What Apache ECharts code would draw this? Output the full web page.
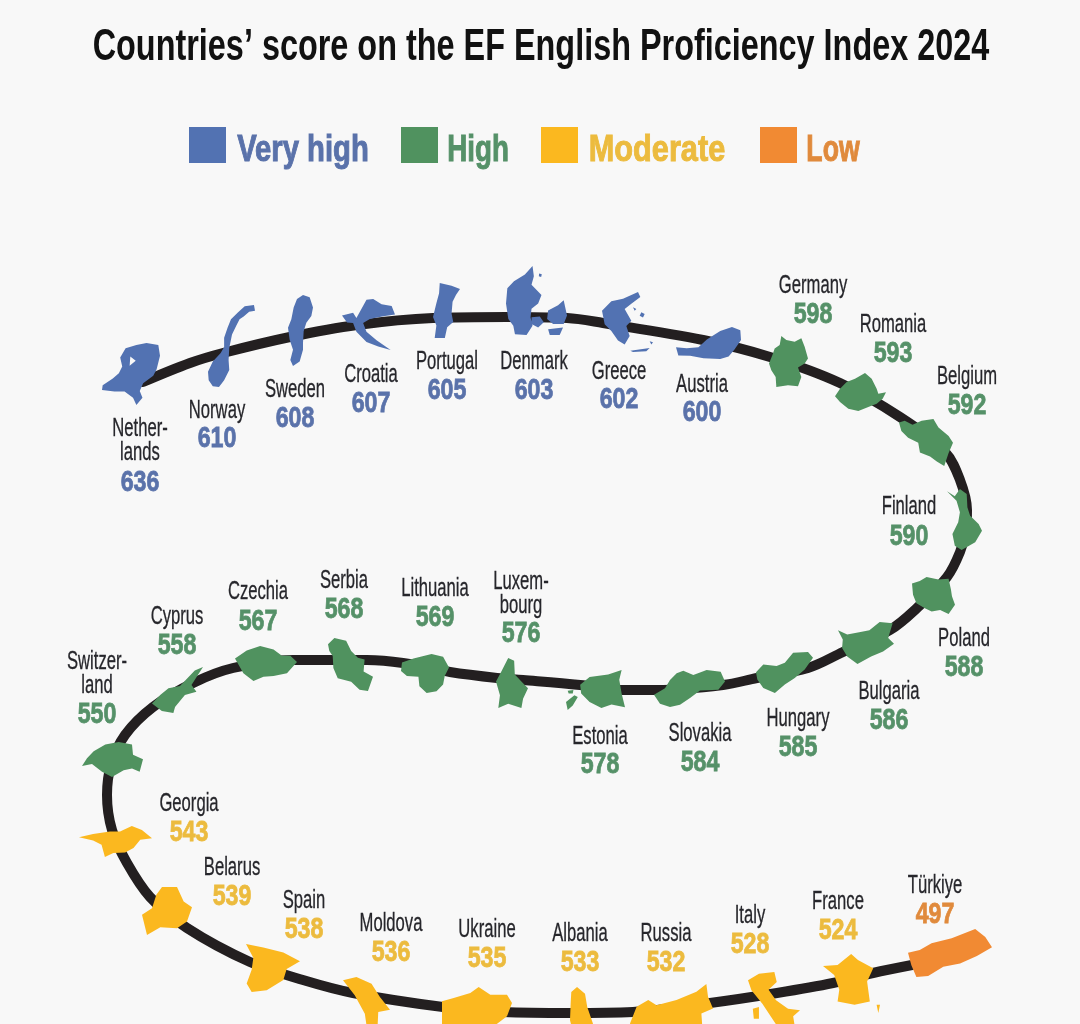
<!DOCTYPE html>
<html>
<head>
<meta charset="utf-8" />
<title>EF English Proficiency Index 2024</title>
<style>
html, body { margin: 0; padding: 0; background: #f8f8f8; overflow: hidden; }
#chart { width: 1080px; height: 1024px; }
</style>
</head>
<body>
<div id="chart"></div>
<script src="https://cdn.jsdelivr.net/npm/echarts@6/dist/echarts.min.js"></script>
<script>
var titleText = 'Countries\u2019 score on the EF English Proficiency Index 2024';
var levelNames = ['Very high', 'High', 'Moderate', 'Low'];

// in track order, best score first
var countries = ['Netherlands', 'Norway', 'Sweden', 'Croatia', 'Portugal', 'Denmark', 'Greece', 'Austria',
  'Germany', 'Romania', 'Belgium', 'Finland', 'Poland', 'Bulgaria', 'Hungary', 'Slovakia', 'Estonia',
  'Luxembourg', 'Lithuania', 'Serbia', 'Czechia', 'Cyprus', 'Switzerland',
  'Georgia', 'Belarus', 'Spain', 'Moldova', 'Ukraine', 'Albania', 'Russia', 'Italy', 'France', 'Türkiye'];
var labels = ['Nether-\nlands', 'Norway', 'Sweden', 'Croatia', 'Portugal', 'Denmark', 'Greece', 'Austria',
  'Germany', 'Romania', 'Belgium', 'Finland', 'Poland', 'Bulgaria', 'Hungary', 'Slovakia', 'Estonia',
  'Luxem-\nbourg', 'Lithuania', 'Serbia', 'Czechia', 'Cyprus', 'Switzer-\nland',
  'Georgia', 'Belarus', 'Spain', 'Moldova', 'Ukraine', 'Albania', 'Russia', 'Italy', 'France', 'Türkiye'];
var scores = [636, 610, 608, 607, 605, 603, 602, 600,
  598, 593, 592, 590, 588, 586, 585, 584, 578,
  576, 569, 568, 567, 558, 550,
  543, 539, 538, 536, 535, 533, 532, 528, 524, 497];
var levels = [0, 0, 0, 0, 0, 0, 0, 0,
  1, 1, 1, 1, 1, 1, 1, 1, 1,
  1, 1, 1, 1, 1, 1,
  2, 2, 2, 2, 2, 2, 2, 2, 2, 3];

// the black track
var trackX = [143, 190, 223, 290, 357, 433, 507, 567, 603, 703, 770, 840, 900, 945, 960, 967, 966, 960, 947, 917, 890, 843,
  808, 757, 723, 657, 620, 580, 523, 497, 450, 403, 367, 327, 293, 233, 193, 153, 125, 111, 107, 112, 127, 150, 187,
  250, 303, 353, 443, 503, 570, 633, 710, 777, 833, 873, 912];
var trackY = [382, 363, 353, 337, 325, 318, 317, 318, 323, 340, 357, 383, 417, 452, 480, 510, 530, 552, 577, 608, 630, 652,
  668, 678, 685, 690, 690, 685, 680, 678, 672, 663, 660, 660, 660, 668, 683, 707, 735, 765, 795, 830, 863, 897, 928,
  962, 980, 993, 1007, 1012, 1013, 1012, 1003, 993, 983, 973, 965];

// where each country sits: left, top, right, bottom
var shapeBoxes = [[102, 343, 160, 405], [208, 305, 255, 387], [288, 295, 313, 366], [342, 299, 395, 350],
  [433, 283, 460, 338], [506, 266, 567, 335], [602, 292, 653, 352], [676, 327, 741, 359],
  [769, 336, 808, 387], [835, 373, 886, 411], [899, 419, 953, 466], [947, 489, 982, 550],
  [912, 577, 955, 614], [838, 622, 894, 664], [756, 652, 813, 693], [654, 670, 725, 707],
  [566, 670, 625, 710], [496, 658, 528, 708], [401, 654, 449, 693], [328, 638, 373, 691],
  [235, 646, 297, 681], [152, 667, 203, 713], [82, 742, 143, 777],
  [79, 826, 152, 857], [142, 887, 192, 935], [246, 944, 300, 992], [343, 977, 390, 1037],
  [442, 987, 512, 1033], [570, 987, 593, 1047], [630, 984, 713, 1037], [748, 972, 800, 1047],
  [823, 954, 880, 1013], [908, 929, 992, 977]];

// label centres
var labelX = [140, 217, 295, 371, 447, 534, 619, 702, 813, 893, 967, 909, 964, 889, 798, 700, 600,
  521, 435, 344, 258, 177, 97, 189, 232, 304, 391, 487, 580, 666, 750, 838, 935];
var nameY = [439, 409, 388, 373, 360, 360, 370, 383, 284, 323, 375, 505, 637, 690, 717, 732, 735,
  592, 587, 579, 590, 615, 672, 802, 866, 899, 922, 928, 932, 932, 914, 900, 884];
var scoreY = [481, 437, 417, 402, 389, 389, 398, 411, 313, 352, 404, 535, 666, 719, 746, 761, 763,
  632, 616, 608, 620, 644, 713, 831, 895, 928, 951, 957, 961, 961, 943, 929, 913];

// country outlines, traced by hand
var shapes = {
  'Netherlands': 'M38,392L40,378L70,358L88,342L98,322L92,295L108,268L140,258L170,252L205,258L210,290L200,330L190,350L160,372L150,395L158,415L140,437L130,415L105,397L75,397ZM122,292L120,320L138,305Z',
  'Norway': 'M358,335L372,305L395,280L405,262L405,235L415,205L425,180L445,160L465,142L492,138L495,155L478,158L462,172L450,180L440,200L428,225L420,265L418,300L420,330L405,360L390,380L372,378L360,360Z',
  'Sweden': 'M640,108L660,115L670,145L665,170L650,190L642,215L640,250L640,270L630,305L610,318L602,300L610,270L600,240L595,205L605,180L612,145L622,120Z',
  'Croatia': 'M757,168L790,160L800,175L830,122L850,120L875,135L905,140L915,165L880,170L840,178L820,190L830,215L860,240L902,268L865,258L830,245L800,215L790,190L772,188Z',
  'Portugal': 'M1050,70L1085,78L1110,88L1098,105L1088,125L1085,160L1090,185L1072,200L1065,232L1035,232L1040,195L1030,170L1040,130L1048,100Z',
  'Denmark': 'M128,20L132,50L125,75L155,105L145,130L125,145L122,170L128,195L110,222L75,220L70,195L55,175L48,130L52,85L72,65L105,45ZM175,150L205,135L222,120L232,165L222,190L190,190L172,175ZM125,170L150,168L162,185L145,200L125,190ZM175,205L220,200L210,222L180,222ZM148,42L156,44L154,52L147,50Z',
  'Greece': 'M337,150L365,122L400,115L445,95L452,110L425,130L405,145L425,180L410,195L420,225L405,250L385,238L365,210L345,190ZM422,268L480,260L470,270L430,272ZM455,155L465,160L460,170L450,165ZM430,140L440,145L435,150ZM480,240L490,243L485,250Z',
  'Austria': 'M558,262L590,265L625,262L650,238L690,212L725,200L750,210L752,240L732,270L715,290L690,298L640,296L600,288L565,287Z',
  'Germany': 'M875,228L890,240L915,245L935,235L945,260L955,295L945,310L925,322L935,350L925,378L895,375L860,380L858,350L845,330L838,310L848,285L855,265L870,255Z',
  'Romania': 'M1035,408L1050,385L1070,365L1095,355L1125,338L1145,355L1160,385L1165,400L1188,396L1178,415L1160,430L1135,440L1105,452L1075,445L1050,425Z',
  'Belgium': 'M1228,490L1245,485L1268,497L1295,485L1330,480L1345,505L1375,530L1388,550L1375,580L1362,618L1340,605L1320,590L1290,578L1285,550L1255,535L1235,515Z',
  'Finland': 'M1402,32L1425,47L1440,25L1460,40L1462,80L1470,105L1495,130L1505,150L1485,185L1445,208L1425,195L1418,160L1435,125L1440,95L1430,60Z',
  'Poland': 'M1297,312L1320,305L1340,293L1375,300L1405,298L1412,330L1415,350L1424,375L1405,402L1380,390L1355,395L1335,385L1310,370L1300,345Z',
  'Bulgaria': 'M1078,452L1105,465L1140,458L1170,452L1200,428L1238,432L1225,475L1242,492L1210,515L1175,530L1135,552L1105,530L1090,505L1092,480Z',
  'Hungary': 'M828,578L850,555L890,560L915,550L940,520L985,518L1000,535L975,570L945,595L915,615L885,640L850,625L832,600Z',
  'Slovakia': 'M522,645L555,625L570,600L590,580L610,572L640,585L680,570L722,575L735,605L715,630L660,632L630,655L600,675L570,682L540,672Z',
  'Estonia': 'M302,615L330,592L385,585L425,572L418,600L425,640L435,680L395,672L365,682L330,665L305,640ZM260,665L285,645L295,650L280,675L265,688ZM265,632L282,630L280,640L268,640Z',
  'Luxembourg': 'M85,537L103,545L105,585L125,605L145,625L130,655L125,682L85,670L55,682L60,645L48,605L65,575Z',
  'Lithuania': 'M1025,310L1060,298L1115,285L1150,293L1168,325L1155,350L1150,375L1130,395L1100,400L1078,380L1075,352L1040,350L1022,335Z',
  'Serbia': 'M806,255L825,237L860,245L875,275L895,295L915,300L912,335L940,350L925,392L900,388L875,365L835,355L822,325L820,290L810,275Z',
  'Czechia': 'M525,298L560,275L600,262L640,272L665,290L690,290L710,308L680,340L640,348L610,350L580,362L550,340Z',
  'Cyprus': 'M275,430L300,405L325,385L360,378L405,332L430,322L395,375L410,395L375,405L345,440L340,458L305,452Z',
  'Switzerland': 'M65,618L80,595L100,575L135,555L175,548L215,555L218,585L248,598L238,635L215,625L190,630L155,650L125,635L95,612Z',
  'Georgia': 'M28,172L70,162L120,155L150,155L185,138L215,150L245,175L210,180L190,205L165,218L130,220L105,232L95,195L70,182Z',
  'Belarus': 'M258,345L275,322L320,322L340,365L365,382L350,425L320,445L270,442L230,465L215,405L245,385Z',
  'Spain': 'M528,495L580,505L640,520L690,545L650,568L640,600L590,630L545,635L530,610L545,570L550,535Z',
  'Moldova': 'M820,600L860,590L905,610L930,650L960,688L925,695L922,760L895,770L885,700L855,645Z',
  'Ukraine': 'M1115,665L1150,655L1200,640L1225,622L1260,645L1310,645L1325,670L1310,710L1270,740L1200,760L1115,760Z',
  'Albania': 'M122,395L140,380L165,400L172,440L190,490L170,560L140,560L118,480L120,430Z',
  'Russia': 'M300,490L320,440L355,420L380,435L440,420L500,395L530,372L535,410L550,445L515,460L520,530L310,530Z',
  'Italy': 'M658,360L690,340L735,335L742,365L718,388L740,420L775,445L810,450L790,468L795,500L765,560L745,500L700,430L668,390ZM672,445L690,440L690,475L675,475Z',
  'France': 'M882,318L925,315L965,282L985,300L1030,325L1012,365L1020,425L975,435L925,425L930,390L915,345ZM1040,435L1050,435L1045,460Z',
  'Türkiye': 'M1135,278L1170,270L1205,250L1265,235L1335,208L1365,232L1385,262L1340,288L1290,310L1240,320L1195,347L1160,350L1145,315Z'
};

var fillColors = ['#5272b2', '#50925f', '#fbb81f', '#f18a33'];
var textColors = ['#5a72aa', '#559168', '#ecbb3e', '#e08a3c'];
var legendLeft = [189, 401, 541, 760];
var legendTextX = [303, 478, 657, 833];
var legendTextScale = [0.79, 0.75, 0.83, 0.72];
var font = '"Liberation Sans", sans-serif';

function trackData() {
  var out = [];
  for (var i = 0; i < trackX.length; i++) out.push([trackX[i], trackY[i]]);
  return out;
}

function levelSeries(level) {
  var data = [];
  for (var i = 0; i < countries.length; i++) {
    if (levels[i] !== level) continue;
    var b = shapeBoxes[i];
    data.push({
      name: countries[i],
      value: [(b[0] + b[2]) / 2, (b[1] + b[3]) / 2, scores[i]],
      symbol: 'path://' + shapes[countries[i]],
      symbolSize: [b[2] - b[0], b[3] - b[1]]
    });
  }
  return {
    name: levelNames[level],
    type: 'scatter',
    z: 3,
    clip: false,
    itemStyle: { color: fillColors[level], opacity: 1 },
    data: data
  };
}

function renderLabel(params, api) {
  var i = api.value(0);
  var p = api.coord([labelX[i], nameY[i]]);
  var y2 = api.coord([labelX[i], scoreY[i]])[1];
  var c = textColors[levels[i]];
  return {
    type: 'group',
    children: [
      {
        type: 'text', x: p[0], y: p[1] + 2, scaleX: 0.64,
        style: { text: labels[i], fill: '#26262b', stroke: '#26262b', lineWidth: 0.3, fontFamily: font, fontSize: 26, lineHeight: 24, align: 'center', verticalAlign: 'middle' }
      },
      {
        type: 'text', x: p[0], y: y2 + 2, scaleX: 0.8,
        style: { text: String(scores[i]), fill: c, stroke: c, lineWidth: 0.8, fontFamily: font, fontWeight: 'bold', fontSize: 29, align: 'center', verticalAlign: 'middle' }
      }
    ]
  };
}

var series = [{
  name: 'track',
  type: 'line',
  z: 1,
  smooth: 0.35,
  showSymbol: false,
  clip: false,
  lineStyle: { color: '#231f20', width: 10, cap: 'round' },
  data: trackData()
}];
for (var k = 0; k < levelNames.length; k++) series.push(levelSeries(k));
series.push({
  name: 'labels',
  type: 'custom',
  z: 4,
  clip: false,
  silent: true,
  renderItem: renderLabel,
  encode: { x: 1, y: 2 },
  data: countries.map(function (c, i) { return [i, labelX[i], nameY[i]]; })
});

// the legend draws the squares, its words need squeezing so they go in graphic below
var legends = levelNames.map(function (name, i) {
  return {
    data: [name],
    left: legendLeft[i],
    top: 127,
    padding: 0,
    icon: 'rect',
    itemWidth: 37,
    itemHeight: 36,
    selectedMode: false,
    formatter: function () { return ''; }
  };
});

var graphics = [{
  type: 'text',
  x: 541,
  y: 48,
  scaleX: 0.72,
  style: { text: titleText, fill: '#111111', fontFamily: font, fontWeight: 'bold', fontSize: 45, align: 'center', verticalAlign: 'middle' }
}];
levelNames.forEach(function (name, i) {
  graphics.push({
    type: 'text',
    x: legendTextX[i],
    y: 151,
    scaleX: legendTextScale[i],
    style: { text: name, fill: textColors[i], stroke: textColors[i], lineWidth: 1, fontFamily: font, fontWeight: 'bold', fontSize: 37, align: 'center', verticalAlign: 'middle' }
  });
});

var myChart = echarts.init(document.getElementById('chart'), null, { renderer: 'canvas' });
myChart.setOption({
  animation: false,
  backgroundColor: '#f8f8f8',
  grid: { left: 0, right: 0, top: 0, bottom: 0 },
  xAxis: { type: 'value', min: 0, max: 1080, show: false },
  yAxis: { type: 'value', min: 0, max: 1024, inverse: true, show: false },
  legend: legends,
  graphic: graphics,
  series: series
});
</script>
</body>
</html>
